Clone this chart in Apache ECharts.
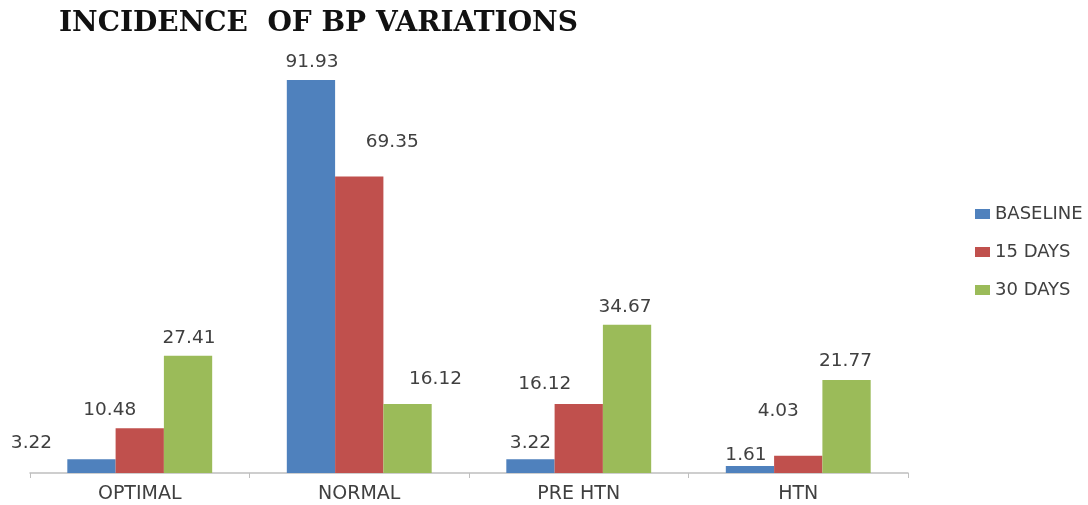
<!DOCTYPE html>
<html lang="en">
<head>
    <meta charset="UTF-8">
    <title>Incidence of BP variations</title>
    <style>
        html, body {
            margin: 0;
            padding: 0;
            background: #fff;
        }

        #main {
            width: 1088px;
            height: 505px;
        }
    </style>
</head>
<body>
<div id="main"></div>
<script src="https://cdn.jsdelivr.net/npm/echarts@6/dist/echarts.min.js"></script>
<script>
    const categories = ['OPTIMAL', 'NORMAL', 'PRE HTN', 'HTN']
    const baseline = [3.22, 91.93, 3.22, 1.61]
    const days15 = [10.48, 69.35, 16.12, 4.03]
    const days30 = [27.41, 16.12, 34.67, 21.77]

    // hand-placed labels in the original, nudged per bar
    const nudges = {
        'BASELINE': [[-60, -4], [1, -5], [0, -4], [-4, 2]],
        '15 DAYS': [[-30, -6], [33, -22], [-34, -7], [-20, -32]],
        '30 DAYS': [[1, -5], [28, -12], [-2, -5], [-1, -6]]
    }

    const font = '"DejaVu Sans", Verdana, sans-serif'

    function makeSeries(name, values, color) {
        return {
            name: name,
            type: 'bar',
            barGap: 0,
            barCategoryGap: '34%',
            itemStyle: {color: color},
            data: values.map((v, i) => ({
                value: v,
                label: {offset: nudges[name][i]}
            })),
            label: {
                show: true,
                position: 'top',
                distance: 3,
                color: '#404040',
                fontSize: 18.5,
                fontFamily: font,
                formatter: p => p.value.toFixed(2)
            }
        }
    }

    let myChart = echarts.init(document.querySelector('#main'))
    let option = {
        animation: false,
        title: {
            text: 'INCIDENCE  OF BP VARIATIONS',
            left: 54,
            top: 5,
            textStyle: {
                fontFamily: '"DejaVu Serif", "Liberation Serif", serif',
                fontWeight: 'bold',
                fontSize: 28,
                color: '#111'
            }
        },
        legend: {
            orient: 'vertical',
            left: 970,
            top: 200,
            itemWidth: 15,
            itemHeight: 10,
            itemGap: 20,
            icon: 'rect',
            textStyle: {
                fontFamily: font,
                fontSize: 18,
                color: '#404040'
            },
            data: ['BASELINE', '15 DAYS', '30 DAYS']
        },
        grid: {
            left: 30,
            right: 180,
            top: 45.5,
            bottom: 32
        },
        xAxis: {
            type: 'category',
            data: categories,
            axisLine: {lineStyle: {color: '#bfbfbf', width: 1.5}},
            axisTick: {show: true, length: 5, lineStyle: {color: '#bfbfbf'}},
            axisLabel: {
                color: '#404040',
                fontSize: 19,
                fontFamily: font,
                margin: 12
            }
        },
        yAxis: {
            type: 'value',
            min: 0,
            max: 100,
            show: false,
            splitLine: {show: false}
        },
        series: [
            makeSeries('BASELINE', baseline, '#4f81bd'),
            makeSeries('15 DAYS', days15, '#c0504d'),
            makeSeries('30 DAYS', days30, '#9bbb59')
        ]
    }
    myChart.setOption(option)
</script>
</body>
</html>
